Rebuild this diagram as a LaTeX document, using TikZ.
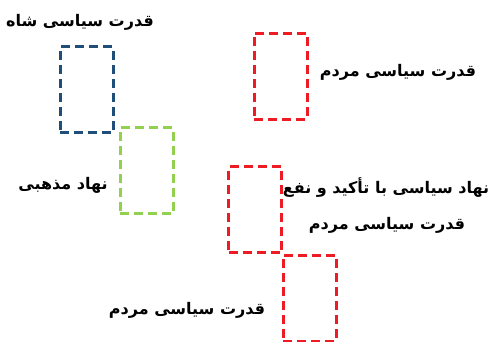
\documentclass[tikz,border=0pt]{standalone}
\usepackage{fontspec}
\newfontfamily\arabicfont[Script=Arabic]{DejaVu Sans}
\TeXXeTstate=1
\usetikzlibrary{positioning}

\begin{document}
\begin{tikzpicture}[x=1pt, y=-1pt]
    % Define colours
    \definecolor{shahColour}{HTML}{1F4E79}
    \definecolor{religionColour}{HTML}{92D050}
    \definecolor{peopleColour}{HTML}{ED1C24}

    % Define styles
    \tikzset{
        power/.style={draw, dash pattern=on 9pt off 5pt, line width=3pt, minimum width=53pt, minimum height=86pt, inner sep=0pt},
        caption/.style={font=\arabicfont\bfseries\fontsize{16}{18}\selectfont, inner sep=0pt}
    }

    % Fix the picture size
    \useasboundingbox (0,0) rectangle (491,342);

    % Draw the dashed boxes
    \node[power, draw=shahColour] (shah) at (86.5,90) {};
    \node[power, draw=religionColour] (religion) at (146.5,171) {};
    \node[power, draw=peopleColour] (peopleTop) at (280.5,76.5) {};
    \node[power, draw=peopleColour] (peopleMid) at (255,210) {};
    \node[power, draw=peopleColour] (peopleLow) at (309.5,298.5) {};

    % Draw the captions
    \node[caption] (shahText) at (80,22) {\beginR قدرت سیاسی شاه\endR};
    \node[caption] (religionText) at (63,185) {\beginR نهاد مذهبی\endR};
    \node[caption] (peopleTopText) at (398,72) {\beginR قدرت سیاسی مردم\endR};
    \node[caption] (peopleMidText) at (386,188) {\beginR نهاد سیاسی با تأکید و نفع\endR};
    \node[caption] (peopleMidText2) at (387,225) {\beginR قدرت سیاسی مردم\endR};
    \node[caption] (peopleLowText) at (187,310) {\beginR قدرت سیاسی مردم\endR};

\end{tikzpicture}
\end{document}
